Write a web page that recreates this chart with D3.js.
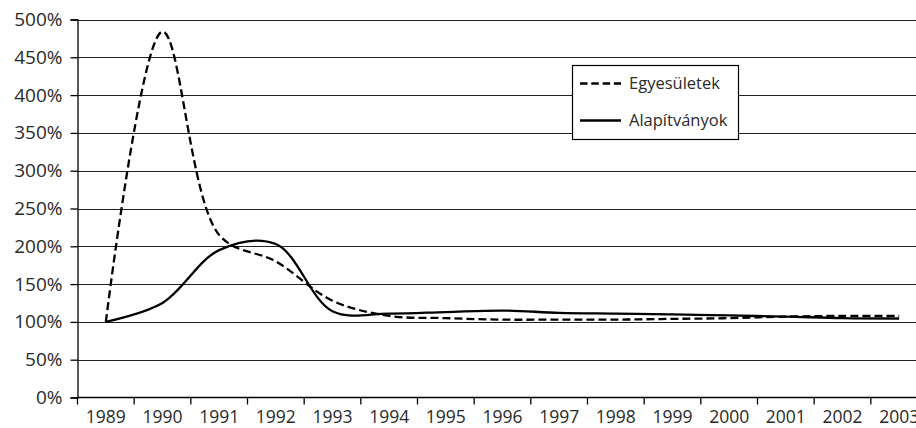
<!DOCTYPE html>
<html><head><meta charset="utf-8">
<script src="https://cdn.jsdelivr.net/npm/d3@7"></script>
<style>html,body{margin:0;padding:0;background:#fff;overflow:hidden}svg{display:block;font-family:"Open Sans",sans-serif}</style>
</head><body>
<svg id="c" width="916" height="428"></svg>
<script>
const years = ["1989","1990","1991","1992","1993","1994","1995","1996","1997","1998","1999","2000","2001","2002","2003"];
const egyesuletek = [100, 484, 215, 180, 128, 108, 105, 103, 103, 103, 104, 105, 107, 108, 108];
const alapitvanyok = [100, 125, 195, 203, 114, 111, 113, 115, 112, 111, 110, 108.5, 107, 105, 104.5];
const yTicks = [0, 50, 100, 150, 200, 250, 300, 350, 400, 450, 500];
const seriesNames = ["Egyesületek", "Alapítványok"];

const svg = d3.select("#c");
const pLeft = 77.5, pRight = 927.5, pTop = 19.5, pBottom = 397.5;
const x = d3.scaleBand().domain(years).range([pLeft, pRight]).padding(0);
const y = d3.scaleLinear().domain([0, 500]).range([pBottom, pTop]);
const cx = d => x(d) + x.bandwidth() / 2;

// gridlines
svg.append("g").selectAll("line").data(yTicks.filter(t => t > 0)).join("line")
  .attr("x1", pLeft).attr("x2", 916)
  .attr("y1", d => Math.round(y(d)) + 0.5).attr("y2", d => Math.round(y(d)) + 0.5)
  .attr("stroke", "#222").attr("stroke-width", 1.2);

// y axis
const yAxis = d3.axisLeft(y).tickValues(yTicks).tickFormat(d => d + "%").tickSize(7).tickPadding(8);
const gy = svg.append("g").attr("transform", `translate(${pLeft},0)`).call(yAxis);
gy.select(".domain").attr("stroke", "#000").attr("stroke-width", 1.3);
gy.selectAll(".tick line").attr("stroke", "#000").attr("stroke-width", 1.3);
gy.selectAll("text").attr("font-size", "19px").attr("fill", "#2a2a2a").attr("font-family", "Open Sans");

// x axis
const gx = svg.append("g");
gx.append("line").attr("x1", pLeft).attr("x2", 916).attr("y1", pBottom).attr("y2", pBottom)
  .attr("stroke", "#000").attr("stroke-width", 1.3);
const bounds = years.map(d => x(d)).concat([x(years[years.length - 1]) + x.bandwidth()]);
gx.selectAll("line.t").data(bounds).join("line").attr("class", "t")
  .attr("x1", d => d).attr("x2", d => d).attr("y1", pBottom).attr("y2", pBottom + 7)
  .attr("stroke", "#000").attr("stroke-width", 1.3);
gx.selectAll("text").data(years).join("text")
  .attr("x", d => cx(d)).attr("y", 423).attr("text-anchor", "middle")
  .attr("font-size", "17.5px").attr("fill", "#2a2a2a").text(d => d);

// lines
const line = d3.line().x((d, i) => cx(years[i])).y(d => y(d)).curve(d3.curveCatmullRom.alpha(0.5));
svg.append("path").datum(egyesuletek).attr("d", line).attr("fill", "none")
  .attr("stroke", "#000").attr("stroke-width", 2.3).attr("stroke-dasharray", "8,4");
svg.append("path").datum(alapitvanyok).attr("d", line).attr("fill", "none")
  .attr("stroke", "#000").attr("stroke-width", 2.3);

// legend
const lg = svg.append("g");
lg.append("rect").attr("x", 572.5).attr("y", 65.5).attr("width", 166).attr("height", 74)
  .attr("fill", "#fff").attr("stroke", "#000").attr("stroke-width", 1.2);
const ly = [83.5, 120.5];
seriesNames.forEach((n, i) => {
  lg.append("line").attr("x1", 580).attr("x2", 621).attr("y1", ly[i]).attr("y2", ly[i])
    .attr("stroke", "#000").attr("stroke-width", 2.3)
    .attr("stroke-dasharray", i === 0 ? "7.5,3.8" : null);
  lg.append("text").attr("x", 629).attr("y", ly[i]).attr("dy", "0.35em")
    .attr("font-size", "16.5px").attr("fill", "#2a2a2a").text(n);
});
</script>
</body></html>
